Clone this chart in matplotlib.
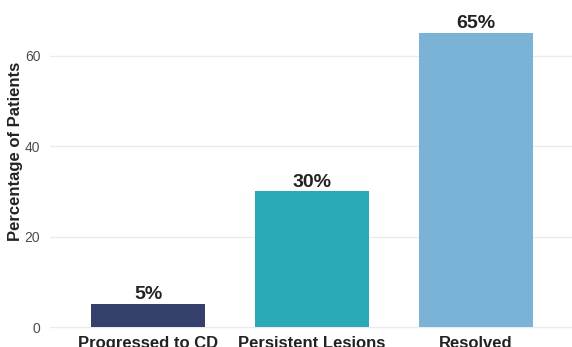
import matplotlib
matplotlib.use('Agg')
import matplotlib.pyplot as plt

# outcome categories and share of patients (%)
categories = ['Progressed to CD', 'Persistent Lesions', 'Resolved']
percentages = [5, 30, 65]
bar_colors = ['#353F6B', '#2BA9B6', '#7BB3D7']
y_ticks = [0, 20, 40, 60]

plt.rcParams['font.family'] = ['Liberation Sans', 'DejaVu Sans']

fig = plt.figure(figsize=(5.72, 3.47), dpi=100)
ax = fig.add_axes([50 / 572, 0.051, 522 / 572, 0.905])

x = list(range(1, len(categories) + 1))
ax.bar(x, percentages, width=0.7, color=bar_colors, zorder=2)

for xi, val in zip(x, percentages):
    ax.text(xi, val + 1.1, f'{val}%', ha='center', va='baseline',
            fontsize=14, fontweight='bold', color='#222222')

ax.set_xlim(0.4024, 3.585)
ax.set_ylim(-0.5, 69)
ax.set_xticks(x)
ax.set_xticklabels(categories, fontsize=12, fontweight='bold', color='#222222')
ax.set_yticks(y_ticks)
ax.tick_params(axis='y', labelsize=10, labelcolor='#4D4D4D', length=0, pad=7)
ax.tick_params(axis='x', length=0, pad=5)
ax.set_ylabel('Percentage of Patients', fontsize=12, fontweight='bold',
              color='#222222')
ax.yaxis.set_label_coords(-0.052, 0.565)

ax.grid(axis='y', color='#EBEBEB', linewidth=1.0, zorder=0)
ax.grid(axis='x', visible=False)
for spine in ax.spines.values():
    spine.set_visible(False)

fig.savefig('out.png', dpi=100)
